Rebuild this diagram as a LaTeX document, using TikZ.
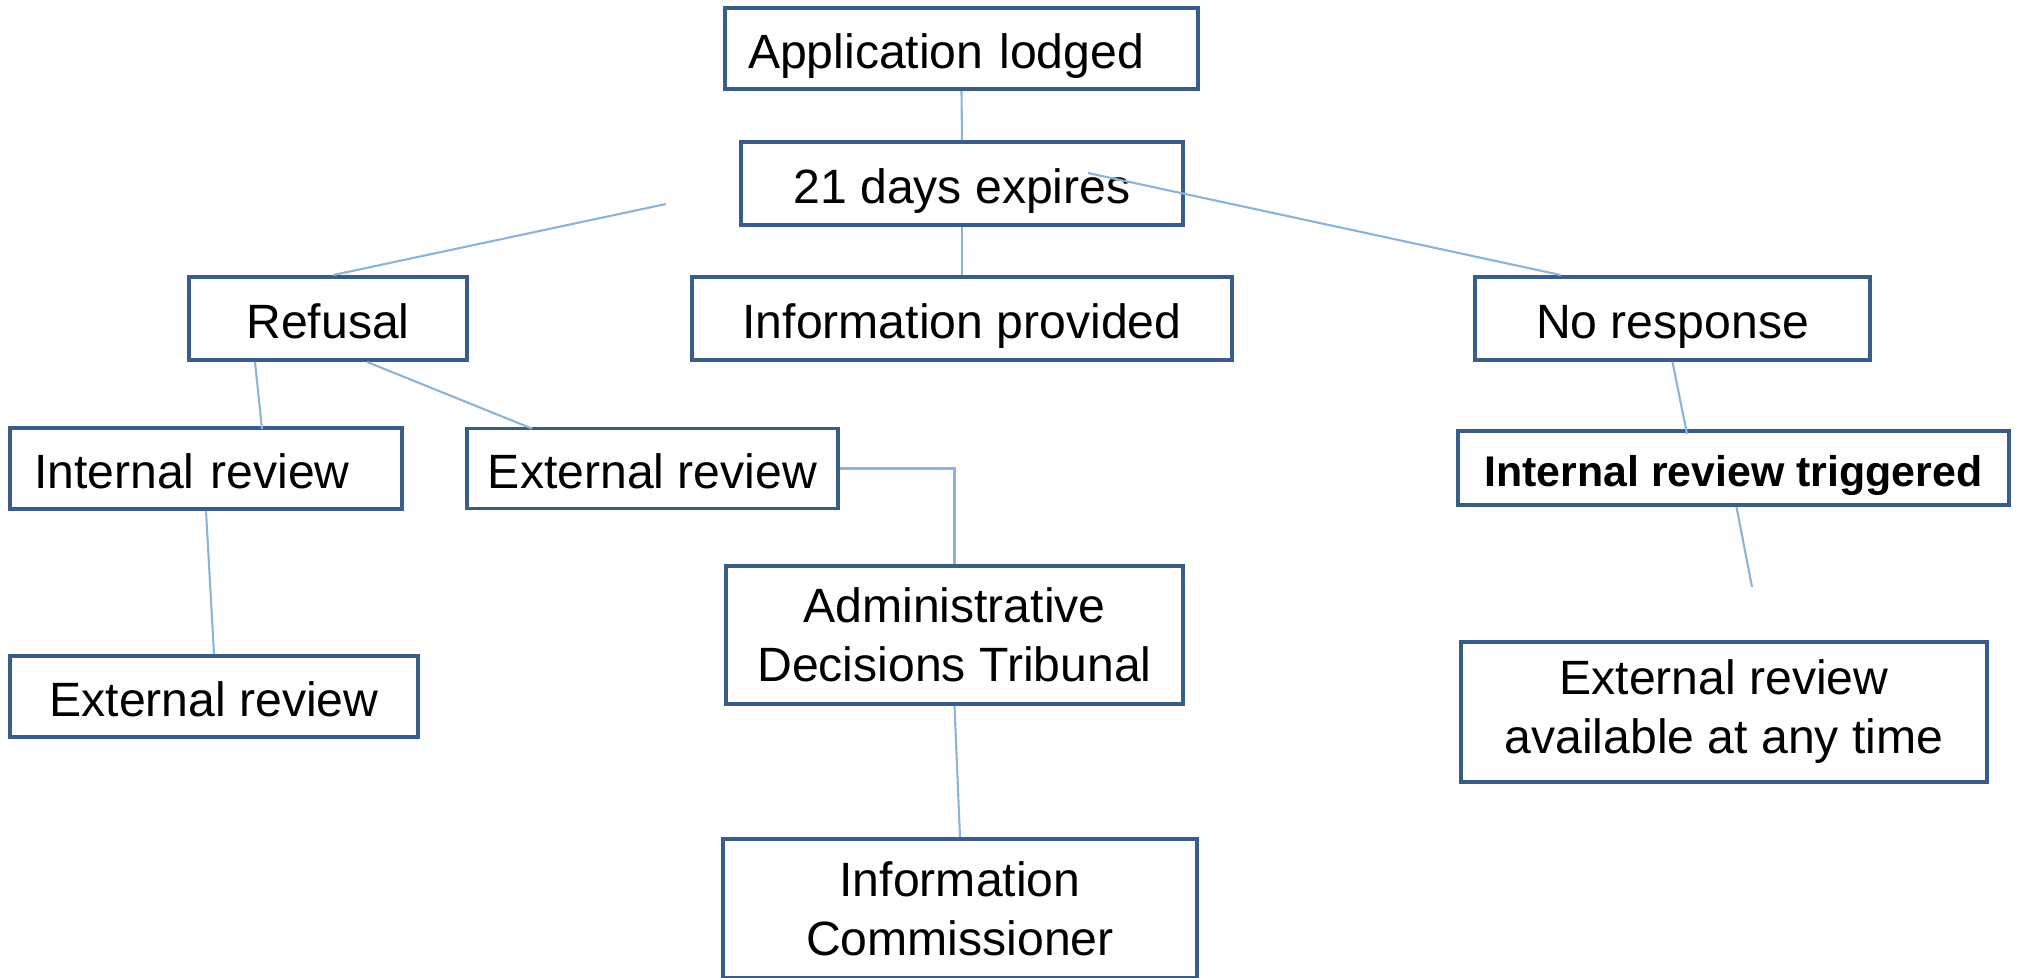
\documentclass[tikz,border=0pt]{standalone}
\usepackage{fontspec}
\setmainfont{Liberation Sans}
\definecolor{boxblue}{RGB}{56,93,138}
\definecolor{linkblue}{RGB}{141,180,214}
\tikzset{
  box/.style={draw=boxblue, line width=1.1pt, inner sep=0pt, align=center,
    font=\fontsize{13.7pt}{16.8pt}\selectfont},
  oneline/.style={box, text height=11.5pt, text depth=0pt},
  boldbox/.style={box, font=\fontsize{12.2pt}{14pt}\selectfont\bfseries,
    text height=10.3pt, text depth=0pt},
  link/.style={draw=linkblue, line width=0.6pt}
}
\begin{document}
\begin{tikzpicture}[x=0.1mm, y=-0.1mm]
\useasboundingbox (0,0) rectangle (2018,977);

% boxes
\node[oneline, align=left, inner xsep=2.3mm, text width=42.7mm, minimum height=8.1mm] (app) at (961.5,48.5) {Application lodged};
\node[oneline, minimum width=44.2mm, minimum height=8.3mm] (days) at (962,183.5) {21 days expires};
\node[oneline, minimum width=27.8mm, minimum height=8.3mm] (refusal) at (328,318.5) {Refusal};
\node[oneline, minimum width=54mm, minimum height=8.3mm] (info) at (962,318.5) {Information provided};
\node[oneline, minimum width=39.5mm, minimum height=8.3mm] (noresp) at (1672.5,318.5) {No response};
\node[oneline, align=left, inner xsep=2.4mm, text width=34.4mm, minimum height=8.1mm] (intrev) at (206,468.5) {Internal review};
\node[oneline, minimum width=37.1mm, minimum height=8mm] (extrevA) at (652.5,468.5) {External review};
\node[oneline, minimum width=40.8mm, minimum height=8.1mm] (extrevB) at (214,696.5) {External review};
\node[box, minimum width=45.7mm, minimum height=13.8mm] (adt) at (954.5,635) {Administrative\\Decisions Tribunal};
\node[box, minimum width=47.4mm, minimum height=13.9mm] (ic) at (960,908.5) {Information\\Commissioner};
\node[boldbox, minimum width=55.1mm, minimum height=7.4mm] (irt) at (1733.5,468) {Internal review triggered};
\node[box, minimum width=52.6mm, minimum height=14mm] (avail) at (1724,712) {External review\\available at any time};

% loose connector ends
\coordinate (rfork) at (666,204);
\coordinate (nfork) at (1088,173);
\coordinate (efork) at (1752,587);

% connectors
\draw[link] (app.south) -- (days.north);
\draw[link] (days.south) -- (info.north);
\draw[link] (rfork) -- ([xshift=0.5mm]refusal.north);
\draw[link] (nfork) -- ([xshift=-11.15mm]noresp.north);
\draw[link] ([xshift=-7.3mm]refusal.south) -- ([xshift=5.6mm,yshift=-0.3mm]intrev.north);
\draw[link] ([xshift=3.9mm]refusal.south) -- ([xshift=-12.05mm,yshift=-0.2mm]extrevA.north);
\draw[link] (intrev.south) -- (extrevB.north);
\draw[link] (extrevA.east) -| (adt.north);
\draw[link] (adt.south) -- (ic.north);
\draw[link] (noresp.south) -- ([xshift=-4.65mm,yshift=-0.5mm]irt.north);
\draw[link] ([xshift=0.3mm]irt.south) -- (efork);
\end{tikzpicture}
\end{document}
